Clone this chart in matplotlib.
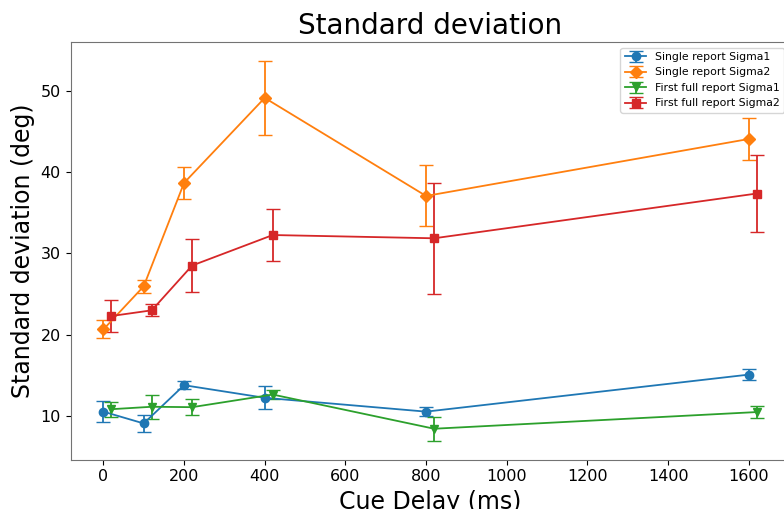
import matplotlib
matplotlib.use("Agg")
import matplotlib.pyplot as plt
import numpy as np

# cue delays (ms); the full-report series are drawn shifted by 20 ms
delays = [0, 100, 200, 400, 800, 1600]
shift = 20

single_sigma1 = [10.55, 9.1, 13.8, 12.25, 10.55, 15.1]
single_sigma1_err = [1.25, 1.05, 0.5, 1.4, 0.55, 0.7]

single_sigma2 = [20.65, 25.95, 38.65, 49.1, 37.05, 44.05]
single_sigma2_err = [1.1, 0.8, 2.0, 4.5, 3.75, 2.55]

full_sigma1 = [10.85, 11.15, 11.1, 12.65, 8.45, 10.5]
full_sigma1_err = [0.9, 1.45, 1.0, 0.55, 1.45, 0.7]

full_sigma2 = [22.3, 23.0, 28.5, 32.25, 31.85, 37.35]
full_sigma2_err = [2.0, 0.75, 3.3, 3.25, 6.8, 4.75]

fig = plt.figure(figsize=(7.84, 5.09), dpi=100)
W, H = 784, 509
left, right, top, bottom = 70.7, 789.5, 42.3, 459.5
ax = fig.add_axes([left / W, (H - bottom) / H, (right - left) / W, (bottom - top) / H])

x = np.array(delays)
kw = dict(capsize=5, lw=1.3, elinewidth=1.3, markersize=6)
ax.errorbar(x, single_sigma1, yerr=single_sigma1_err, marker="o", color="tab:blue",
            label="Single report Sigma1", **kw)
ax.errorbar(x, single_sigma2, yerr=single_sigma2_err, marker="D", color="tab:orange",
            label="Single report Sigma2", **kw)
ax.errorbar(x + shift, full_sigma1, yerr=full_sigma1_err, marker="v", color="tab:green",
            label="First full report Sigma1", **kw)
ax.errorbar(x + shift, full_sigma2, yerr=full_sigma2_err, marker="s", color="tab:red",
            label="First full report Sigma2", **kw)

ax.set_title("Standard deviation", fontsize=20)
ax.set_xlabel("Cue Delay (ms)", fontsize=17)
ax.set_ylabel("Standard deviation (deg)", fontsize=17)
ax.set_xticks(range(0, 1601, 200))
ax.set_yticks([10, 20, 30, 40, 50])
ax.tick_params(labelsize=11.5)
for sp in ax.spines.values():
    sp.set_color("0.45")
ax.legend(loc="upper right", fontsize=7.8)

fig.savefig("out.png", dpi=100)
